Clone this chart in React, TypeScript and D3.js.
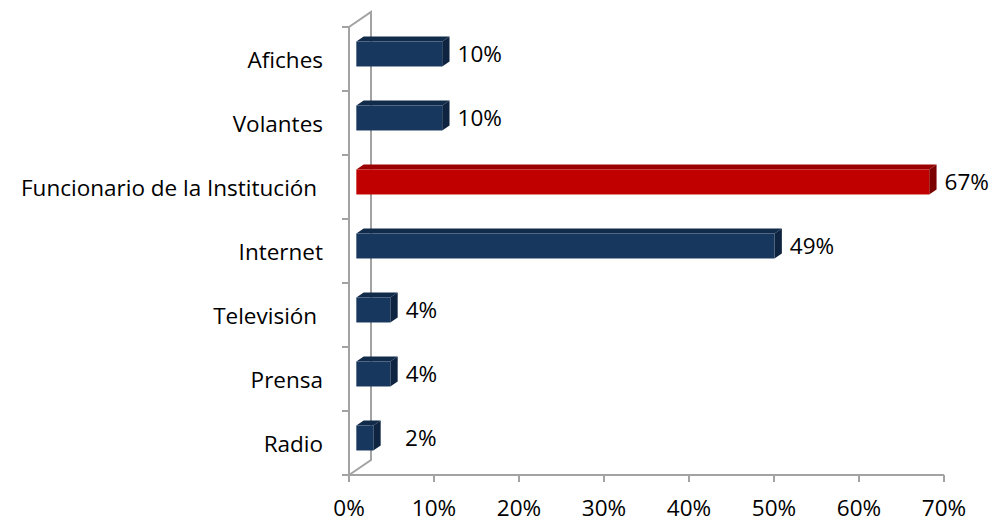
import React, { useEffect, useRef } from "react";
import * as d3 from "d3";

// Medios por los que se enteró (de arriba hacia abajo)
const categories = [
  "Afiches",
  "Volantes",
  "Funcionario de la Institución ",
  "Internet",
  "Televisión ",
  "Prensa",
  "Radio",
];
const values = [0.101, 0.101, 0.674, 0.492, 0.04, 0.04, 0.02];
const highlighted = "Funcionario de la Institución ";
const xTicks = [0, 0.1, 0.2, 0.3, 0.4, 0.5, 0.6, 0.7];

export default function App() {
  const chartRef = useRef(null);

  useEffect(() => {
    const width = 994;
    const height = 523;
    const left = 349;
    const right = 944;
    const top = 27;
    const bottom = 475;
    // depth of the 3D box (front plane -> back wall)
    const depthX = 22;
    const depthY = -15;

    const font = "'Open Sans', sans-serif";
    const fontSize = 22.5;
    const axisColor = "#a3a3a3";

    const x = d3.scaleLinear().domain([0, 0.7]).range([left, right]);
    const y = d3.scaleBand().domain(categories).range([top, bottom]);

    const palette = {
      normal: { front: "#17375e", top: "#112b4b", side: "#0e2440" },
      hot: { front: "#c00000", top: "#9a0000", side: "#7c0000" },
    };

    const svg = d3
      .create("svg")
      .attr("width", width)
      .attr("height", height)
      .style("position", "absolute")
      .style("left", 0)
      .style("top", 0)
      .style("background", "#fff")
      .style("font-family", font);

    // back wall + depth lines
    const frame = svg
      .append("g")
      .attr("stroke", axisColor)
      .attr("stroke-width", 2)
      .attr("fill", "none");
    frame
      .append("path")
      .attr(
        "d",
        `M${left},${top} L${left + depthX},${top + depthY} L${left + depthX},${
          bottom + depthY
        } L${left},${bottom}`
      );
    // front vertical axis
    frame.append("line").attr("x1", left).attr("x2", left).attr("y1", top).attr("y2", bottom);
    // category ticks
    const catTicks = y.domain().map((d) => y(d)).concat([bottom]);
    frame
      .selectAll("line.ct")
      .data(catTicks)
      .join("line")
      .attr("class", "ct")
      .attr("x1", left - 7)
      .attr("x2", left)
      .attr("y1", (d) => d)
      .attr("y2", (d) => d);
    // bottom value axis
    frame.append("line").attr("x1", left).attr("x2", right).attr("y1", bottom).attr("y2", bottom);
    frame
      .selectAll("line.vt")
      .data(xTicks)
      .join("line")
      .attr("class", "vt")
      .attr("x1", (d) => x(d))
      .attr("x2", (d) => x(d))
      .attr("y1", bottom)
      .attr("y2", bottom + 7);

    // value tick labels
    const fmt = d3.format(".0%");
    svg
      .append("g")
      .attr("font-size", fontSize)
      .attr("text-anchor", "middle")
      .selectAll("text")
      .data(xTicks)
      .join("text")
      .attr("x", (d) => x(d))
      .attr("y", 508)
      .attr("dy", "0.35em")
      .text((d) => fmt(d));

    // category labels
    svg
      .append("g")
      .attr("font-size", fontSize)
      .attr("text-anchor", "end")
      .selectAll("text")
      .data(categories)
      .join("text")
      .attr("x", 323)
      .attr("y", (d) => y(d) + y.bandwidth() / 2 + 1)
      .attr("dy", "0.35em")
      .style("white-space", "pre")
      .text((d) => d);

    // 3D bars: front face sits a third of the way into the depth
    const fx = depthX / 3;
    const fy = depthY / 3;
    const bh = y.bandwidth() * 0.39;
    const bars = svg
      .append("g")
      .selectAll("g")
      .data(categories.map((c, i) => ({ c, v: values[i] })))
      .join("g");

    bars.each(function (d) {
      const g = d3.select(this);
      const col = d.c === highlighted ? palette.hot : palette.normal;
      const x0 = x(0) + fx;
      const x1 = x(d.v) + fx;
      const cy = y(d.c) + y.bandwidth() / 2 + fy;
      const y0 = cy - bh / 2;
      const y1 = cy + bh / 2;
      g.append("path")
        .attr("fill", col.top)
        .attr("d", `M${x0},${y0} L${x0 + fx},${y0 + fy} L${x1 + fx},${y0 + fy} L${x1},${y0} Z`);
      g.append("path")
        .attr("fill", col.side)
        .attr("d", `M${x1},${y0} L${x1 + fx},${y0 + fy} L${x1 + fx},${y1 + fy} L${x1},${y1} Z`);
      g.append("rect")
        .attr("fill", col.front)
        .attr("x", x0)
        .attr("y", y0)
        .attr("width", x1 - x0)
        .attr("height", bh);
      g.append("text")
        .attr("font-size", fontSize)
        .attr("x", Math.max(x1 + fx + 8, x(0.066)))
        .attr("y", cy)
        .attr("dy", "0.35em")
        .text(fmt(Math.round(d.v * 100) / 100));
    });

    chartRef.current.innerHTML = "";
    chartRef.current.appendChild(svg.node());
  }, []);

  return <div ref={chartRef} />;
}
